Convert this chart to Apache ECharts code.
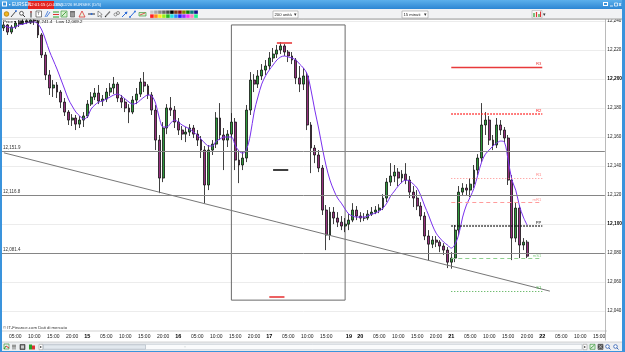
<!DOCTYPE html>
<html><head><meta charset="utf-8">
<script src="https://cdn.jsdelivr.net/npm/echarts@6/dist/echarts.min.js"></script>
<style>html,body{margin:0;padding:0;background:#fff;}#c{width:625px;height:352px;}</style>
</head><body><div id="c"></div>
<script>
// ---------- DATA ----------
const sessions = [['14',2,23],['15',0,23],['16',0,23],['17',0,20],['19',21,23],['20',0,23],['21',0,23],['22',0,16]];
const categories = [];
sessions.forEach(([d,a,b])=>{ for(let h=a;h<=b;h++) categories.push(d+' '+String(h).padStart(2,'0')+':00'); });
const labelHours = [5,10,15,20];

const opens = [
12.2352,12.2373,12.2324,12.2359,12.2386,12.2379,12.2400,12.2393,12.2407,12.2400,
12.2304,12.2166,12.2028,12.1938,12.1959,12.1910,12.1841,12.1772,12.1717,12.1731,
12.1689,12.1717,12.1745,12.1827,12.1876,12.1903,12.1848,12.1862,12.1910,12.1938,
12.1965,12.1869,12.1841,12.1800,12.1772,12.1855,12.1896,12.1979,12.1952,12.1890,
12.1786,12.1579,12.1317,12.1662,12.1800,12.1786,12.1703,12.1648,12.1620,12.1634,
12.1662,12.1620,12.1579,12.1510,12.1269,12.1510,12.1551,12.1731,12.1614,12.1579,
12.1620,12.1703,12.1441,12.1407,12.1455,12.1786,12.1993,12.1965,12.2021,12.2062,
12.2090,12.2145,12.2172,12.2200,12.2228,12.2186,12.2159,12.2131,12.2007,12.1965,
12.2021,12.1683,12.1524,12.1476,12.1386,12.1096,12.0924,12.1082,12.1041,12.1013,
12.0986,12.0999,12.1027,12.1096,12.1055,12.1041,12.1041,12.1068,12.1082,12.1096,
12.1110,12.1179,12.1289,12.1331,12.1358,12.1317,12.1344,12.1303,12.1220,12.1179,
12.1124,12.1055,12.0917,12.0861,12.0889,12.0875,12.0848,12.0820,12.0737,12.0765,
12.0958,12.1220,12.1248,12.1234,12.1275,12.1372,12.1455,12.1683,12.1717,12.1579,
12.1545,12.1683,12.1648,12.1593,12.1303,12.0903,12.1110,12.0855,12.0875];
const closes = [
12.2373,12.2324,12.2359,12.2386,12.2379,12.2400,12.2393,12.2407,12.2400,12.2304,
12.2166,12.2028,12.1938,12.1959,12.1910,12.1841,12.1772,12.1717,12.1731,12.1689,
12.1717,12.1745,12.1827,12.1876,12.1903,12.1848,12.1862,12.1910,12.1938,12.1965,
12.1869,12.1841,12.1800,12.1772,12.1855,12.1896,12.1979,12.1952,12.1890,12.1786,
12.1579,12.1317,12.1662,12.1800,12.1786,12.1703,12.1648,12.1620,12.1634,12.1662,
12.1620,12.1579,12.1510,12.1269,12.1510,12.1551,12.1731,12.1614,12.1579,12.1620,
12.1703,12.1441,12.1407,12.1455,12.1786,12.1993,12.1965,12.2021,12.2062,12.2090,
12.2145,12.2172,12.2200,12.2228,12.2186,12.2159,12.2131,12.2007,12.1965,12.2021,
12.1683,12.1524,12.1476,12.1386,12.1096,12.0924,12.1082,12.1041,12.1013,12.0986,
12.0999,12.1027,12.1096,12.1055,12.1041,12.1041,12.1068,12.1082,12.1096,12.1110,
12.1179,12.1289,12.1331,12.1358,12.1317,12.1344,12.1303,12.1220,12.1179,12.1124,
12.1055,12.0917,12.0861,12.0889,12.0875,12.0848,12.0820,12.0737,12.0765,12.0958,
12.1220,12.1248,12.1234,12.1275,12.1372,12.1455,12.1683,12.1717,12.1579,12.1545,
12.1683,12.1648,12.1593,12.1303,12.0903,12.1110,12.0855,12.0875,12.0778];
const lows = [
12.2331,12.2304,12.2310,12.2345,12.2359,12.2373,12.2379,12.2379,12.2373,12.2283,
12.2145,12.1993,12.1890,12.1876,12.1869,12.1800,12.1745,12.1683,12.1676,12.1648,
12.1662,12.1669,12.1731,12.1814,12.1855,12.1827,12.1814,12.1841,12.1883,12.1896,
12.1841,12.1800,12.1772,12.1696,12.1758,12.1827,12.1876,12.1910,12.1862,12.1752,
12.1510,12.1213,12.1289,12.1620,12.1745,12.1662,12.1614,12.1579,12.1565,12.1607,
12.1593,12.1538,12.1455,12.1144,12.1234,12.1476,12.1524,12.1579,12.1372,12.1531,
12.1593,12.1372,12.1282,12.1372,12.1427,12.1752,12.1910,12.1938,12.1993,12.2028,
12.2062,12.2117,12.2145,12.2172,12.2159,12.2117,12.2103,12.1965,12.1910,12.1924,
12.1648,12.1351,12.1420,12.1358,12.1062,12.0820,12.0889,12.0999,12.0979,12.0958,
12.0944,12.0958,12.1013,12.1027,12.1013,12.1020,12.1027,12.1055,12.1068,12.1075,
12.1096,12.1151,12.1262,12.1289,12.1262,12.1282,12.1275,12.1179,12.1117,12.1096,
12.1027,12.0889,12.0751,12.0834,12.0841,12.0806,12.0786,12.0696,12.0692,12.0737,
12.0917,12.1193,12.1200,12.1186,12.1248,12.1338,12.1427,12.1614,12.1545,12.1510,
12.1524,12.1614,12.1565,12.1269,12.0751,12.0875,12.0765,12.0820,12.0765];
const highs = [
12.2393,12.2379,12.2373,12.2400,12.2407,12.2414,12.2414,12.2414,12.2414,12.2407,
12.2317,12.2186,12.2062,12.1993,12.1979,12.1924,12.1869,12.1786,12.1758,12.1752,
12.1745,12.1772,12.1855,12.1910,12.1938,12.1959,12.1890,12.1938,12.1972,12.2014,
12.1979,12.1890,12.1869,12.1827,12.1883,12.1938,12.2007,12.2048,12.1965,12.1910,
12.1821,12.1614,12.1703,12.1827,12.1876,12.1814,12.1731,12.1676,12.1669,12.1689,
12.1683,12.1648,12.1607,12.1538,12.1545,12.1579,12.1772,12.1834,12.1662,12.1648,
12.1765,12.1731,12.1496,12.1496,12.1821,12.2048,12.2034,12.2062,12.2103,12.2131,
12.2186,12.2214,12.2235,12.2255,12.2241,12.2200,12.2186,12.2145,12.2090,12.2076,
12.2048,12.1703,12.1545,12.1510,12.1407,12.1131,12.1117,12.1117,12.1082,12.1055,
12.1041,12.1068,12.1144,12.1124,12.1082,12.1075,12.1096,12.1117,12.1124,12.1137,
12.1206,12.1317,12.1420,12.1407,12.1386,12.1372,12.1420,12.1331,12.1262,12.1234,
12.1151,12.1082,12.0958,12.0917,12.0917,12.0889,12.0868,12.0841,12.0806,12.0993,
12.1262,12.1282,12.1275,12.1317,12.1407,12.1482,12.1834,12.1772,12.1745,12.1614,
12.1731,12.1717,12.1669,12.1614,12.1338,12.1151,12.1131,12.0903,12.0889];
const ema = [
12.2366,12.2359,12.2352,12.2359,12.2373,12.2379,12.2386,12.2393,12.2393,12.2379,
12.2338,12.2269,12.2193,12.2131,12.2069,12.2000,12.1931,12.1862,12.1814,12.1772,
12.1745,12.1724,12.1738,12.1793,12.1821,12.1841,12.1848,12.1862,12.1876,12.1890,
12.1896,12.1883,12.1862,12.1841,12.1827,12.1834,12.1855,12.1876,12.1890,12.1883,
12.1834,12.1731,12.1669,12.1669,12.1696,12.1717,12.1703,12.1683,12.1669,12.1655,
12.1634,12.1614,12.1586,12.1558,12.1538,12.1538,12.1572,12.1586,12.1600,12.1600,
12.1600,12.1545,12.1503,12.1489,12.1517,12.1614,12.1772,12.1876,12.1965,12.2021,
12.2062,12.2097,12.2131,12.2152,12.2159,12.2152,12.2145,12.2131,12.2103,12.2076,
12.2034,12.1924,12.1786,12.1662,12.1524,12.1400,12.1303,12.1234,12.1179,12.1144,
12.1103,12.1068,12.1055,12.1048,12.1048,12.1048,12.1055,12.1068,12.1075,12.1089,
12.1110,12.1144,12.1193,12.1227,12.1262,12.1289,12.1303,12.1296,12.1275,12.1248,
12.1193,12.1124,12.1062,12.0993,12.0937,12.0903,12.0875,12.0855,12.0834,12.0861,
12.0930,12.1048,12.1131,12.1186,12.1248,12.1338,12.1427,12.1482,12.1510,12.1538,
12.1558,12.1572,12.1565,12.1441,12.1303,12.1234,12.1124,12.1048,12.0993];

const supportLevels = [12.1519, 12.1168, 12.0814];
const trendIdx = [0, 144];
const trendVal = [12.1491, 12.0537];
const boxIdx = [60, 90];
const boxVal = [12.2373, 12.0475];
const markFrom = [72, 71, 70];
const markTo = [76, 75, 74];
const markVal = [12.2250, 12.1377, 12.0498];
const pivotNames = ['R3','R2','R1','mR1','PP','mS1','S1'];
const pivotValues = [12.2083, 12.1758, 12.1316, 12.1148, 12.0986, 12.0763, 12.0539];
const pivotRange = [118, 142];
const lastPrice = 12.0778;
const extraTags = [12.0712, 12.0519];

// ---------- STYLES ----------
const FONT = 'Arial, "Liberation Sans", sans-serif';
const pivotColors = ['#e8393a','#ff1a1a','#ff8a8a','#ff9c9c','#111111','#8fd08f','#3ea53e'];
const pivotWidths = [1.4,1.6,1,1,1.6,1,1];
const pivotTypes  = ['solid',[1.5,1.5],[1,2],[4,3],[1.5,1.5],[4,3],[1,2]];
const markColors = ['#e8393a','#111111','#e8393a'];

function fmtAxis(v){ return v.toFixed(3).replace('.', ','); }
function fmtPx(v){ const s=v.toFixed(4); return s.slice(0,2)+','+s.slice(3,6)+'.'+s.slice(6); }
function catInfo(i){ const p=categories[i].split(' '); return {d:p[0], h:parseInt(p[1],10)}; }
function isDayStart(i){ return i>0 && catInfo(i).d!==catInfo(i-1).d; }
function showLabel(i){
  if (isDayStart(i)) return true;
  if (labelHours.indexOf(catInfo(i).h) >= 0) {
    for (let k=1;k<=3;k++) if (i+k<categories.length && isDayStart(i+k)) return false;
    return true;
  }
  return false;
}

const candleData = opens.map((o,i)=>[o, closes[i], lows[i], highs[i]]);

// markers
const ml = [];
supportLevels.forEach(v=>ml.push({yAxis:v, lineStyle:{color:'#858585',width:1,type:'solid'},
  label:{show:true, position:'insideStartTop', formatter:fmtPx(v), fontSize:4.5, color:'#333', distance:1, fontFamily:FONT}}));
ml.push([{coord:[trendIdx[0],trendVal[0]], lineStyle:{color:'#777',width:1,type:'solid'}, label:{show:false}},
         {coord:[trendIdx[1],trendVal[1]]}]);
markVal.forEach((v,k)=>ml.push([{coord:[markFrom[k],v], lineStyle:{color:markColors[k],width:1.6,type:'solid'}, label:{show:false}},
         {coord:[markTo[k],v]}]));
pivotNames.forEach((n,k)=>ml.push([
   {coord:[pivotRange[0],pivotValues[k]], lineStyle:{color:pivotColors[k], width:pivotWidths[k], type:pivotTypes[k], opacity:1},
    label:{show:true, position:'insideEndTop', formatter:n, fontSize:4.2, color:pivotColors[k], distance:1, fontFamily:FONT}},
   {coord:[pivotRange[1],pivotValues[k]], lineStyle:{color:pivotColors[k], width:pivotWidths[k], type:pivotTypes[k], opacity:1}}]));
// right axis tags
function tag(v, color, bg, border){
  ml.push({yAxis:v, lineStyle:{opacity:0}, label:{show:true, position:'end', distance:2, formatter:fmtPx(v),
    fontSize:4.5, color:color, backgroundColor:bg, borderColor:border||'transparent', borderWidth:border?0.5:0,
    padding:[0.5,0.8,0,0.8], fontFamily:FONT}});
}
[0,1,2,3].forEach(k=>tag(pivotValues[k], '#e01010', '#fff4f4', '#f3a0a0'));
tag(pivotValues[4], '#222', '#fff', '#bbb');
tag(lastPrice, '#000', '#ffe81a', '#c8b000');
tag(extraTags[0], '#1f8f1f', '#eaffea', '#9ad09a');
tag(extraTags[1], '#1f8f1f', '#fff', '#9ad09a');

// ---------- CHROME ----------
const G = [];
function R(x,y,w,h,fill,stroke,lw){ G.push({type:'rect', shape:{x:x,y:y,width:w,height:h}, style:{fill:fill, stroke:stroke||null, lineWidth:stroke?(lw||0.6):0}, silent:true, z:100}); }
function T(x,y,text,size,fill,extra){ G.push({type:'text', x:x, y:y, style:Object.assign({text:text, fontSize:size, fill:fill, fontFamily:FONT, verticalAlign:'middle', align:'left'}, extra||{}), silent:true, z:101}); }
function L(x1,y1,x2,y2,stroke,w){ G.push({type:'line', shape:{x1:x1,y1:y1,x2:x2,y2:y2}, style:{stroke:stroke, lineWidth:w||1}, silent:true, z:101}); }
function C(cx,cy,r,fill,stroke){ G.push({type:'circle', shape:{cx:cx,cy:cy,r:r}, style:{fill:fill, stroke:stroke||null, lineWidth:0.8}, silent:true, z:101}); }

const blue = new echarts.graphic.LinearGradient(0,0,0,1,[{offset:0,color:'#5cb0ec'},{offset:1,color:'#2d86d3'}]);
R(0,0,625,9,blue);
R(0,9,2,343,'#3a93dc'); R(622,0,3,352,'#3a93dc'); R(0,351,625,1,'#3a93dc');
R(2,1.5,5,5,'#fff'); R(3,2.5,3,3,'#3a93dc');
T(9,4.7,'▪ EURSEK',4.6,'#fff');
R(28,1,26,8,'#e3231f');
T(29,5,'12:01:15 (-0.03%)',4.2,'#fff');
T(56,5,'15/12/26 EURSEK (D/5)',4.2,'#e8f4ff');
R(603,2,5,4,'#fff'); R(604,3,3,2,'#3a93dc');
L(610,6,613,6,'#fff',0.8); R(614.5,3,3,3,null,'#fff',0.7);
L(619,3,621,6,'#fff',0.8); L(621,3,619,6,'#fff',0.8);

// toolbar
R(2,9,620,10,'#f1f2f4'); L(2,18.8,622,18.8,'#a9a9a9',0.6);
C(6.5,14,2.3,'#f2b51f','#b07a00');
L(11,17,16,11,'#333',0.9); C(16,11,0.9,'#2a6ad8');
C(21.5,13.3,1.9,'#fff','#333'); L(22.8,14.8,25,17,'#333',1);
L(31,11,31,17.5,'#333',1); L(30,12,32,12,'#d33',0.8);
R(36,11,5.5,6,'#fff','#333'); T(37.2,14.2,'T',4,'#333');
L(45,17,48,11,'#2a6ad8',0.8); L(46.5,17,50,12,'#2a6ad8',0.8);
L(53,12,59,12,'#2aa02a',1); L(53,14.5,59,14.5,'#d33',1); L(53,17,59,17,'#2aa02a',1);
R(61,11,6,6,'#d8f0d0','#2a8f2a'); L(62,16,66,12,'#2a8f2a',0.8);
R(70.5,12,4,5,'#9a9a9a','#555'); L(70,11.5,75,11.5,'#555',0.8);
G.push({type:'polygon', shape:{points:[[79,17],[82,11],[85,17]]}, style:{fill:'#e6f5e0', stroke:'#d33', lineWidth:0.8}, silent:true, z:101});
L(88,14,95,14,'#333',1); C(91.5,14,1,'#2a6ad8');
G.push({type:'polygon', shape:{points:[[98,11],[98,17],[99.5,15.5],[101,17.5],[101.8,16.8],[100.5,15],[102.2,14.5]]}, style:{fill:'#fff', stroke:'#555', lineWidth:0.6}, silent:true, z:101});
L(105,17,110,11.5,'#777',1.2); L(105,17,106,16,'#333',1);
C(115.5,14.5,1.5,null,'#777'); C(118,13,1.5,null,'#777');
L(122,17,127,12,'#2a6ad8',1); G.push({type:'polygon', shape:{points:[[127.5,11.5],[124.5,12.2],[126.8,14.5]]}, style:{fill:'#2a6ad8'}, silent:true, z:101});
L(130,17,135,11.5,'#2a6ad8',1); C(130,17,0.9,'#2a6ad8'); C(135,11.5,0.9,'#2a6ad8');
R(139,12.5,7,3.5,'#d8f0d0','#2a8f2a'); L(140,15,145,13,'#d33',0.8);
const pal1 = ['#c8c8c8','#a8a8a8','#8a8a8a','#6a6a6a','#4a4a4a','#000000','#7a3a1a','#8a1010','#808000','#0a7a0a','#0a7a7a','#10108a'];
const pal2 = ['#ff2020','#ff8c1a','#ffe81a','#9cf01a','#20c020','#20e0e0','#2a8cff','#2020ff','#9030ff','#ff30ff','#ff80c0','#20f090'];
pal1.forEach((c,k)=>R(150+k*4,10.3,4,3.9,c,'#fff',0.3));
pal2.forEach((c,k)=>R(150+k*4,14.2,4,3.9,c,'#fff',0.3));
R(273,11,25,7,'#fff','#9a9a9a'); T(274.5,14.6,'200 unità',4.2,'#222'); T(293.5,14.6,'▾',4.5,'#333');
R(402,11,26,7,'#fff','#9a9a9a'); T(403.5,14.6,'15 minuti',4.2,'#222'); T(423.5,14.6,'▾',4.5,'#333');
R(532,10.5,10,7.5,'#f8f8f8','#b0b0b0'); L(534,17,534,13,'#2aa02a',1.2); L(536.5,17,536.5,12,'#d33',1.2); L(539,17,539,14,'#2aa02a',1.2); L(540.5,17,540.5,11.5,'#d33',1);
T(543,14.6,'▾',4.5,'#333');

// chart frame / bottom
L(2,19.2,622,19.2,'#9a9a9a',0.6);
T(3,21.8,'Price ▾  ▮▮  High 12,241.4   Low 12,069.2',4.4,'#111');
T(3,327.8,'© IT-Finance.com Dati di mercato',4.3,'#333');
L(2,331,607,331,'#b4b4b4',0.6);
R(2,342,620,9,'#eceef1'); L(2,342,622,342,'#b8b8b8',0.6);
L(4,349,6,346,'#2aa02a',1); L(6,346,9,348,'#d33',1); R(4,344,5,5,null,'#2a8f2a',0.6);
L(13,344.5,13,349.5,'#555',0.8); L(15,344.5,15,349.5,'#555',0.8); L(12,346,16,346,'#555',0.6);
R(20,344.5,5,5,'#666','#333'); R(21,345.5,3,3,'#ccc');
R(29,344.5,3,5,'#2aa02a'); R(32,345.5,3,4,'#d33');
R(39,344.3,4,5.4,'#fff','#999'); T(39.8,347.2,'▸',3.5,'#333');
R(43,344.3,539,5.4,'#fafbfc','#b9c0c8'); R(43.5,344.8,102,4.4,'#e2e8ee','#a9b3bd');
T(184,347.1,'::',3.5,'#9aa');
R(583,344.3,4,5.4,'#fff','#999'); T(583.6,347.2,'▸',3.5,'#333');
R(590,344.3,5,5,'#e0f0e0','#2a8f2a'); L(590.5,348.5,594.5,345,'#2a8f2a',0.8);
R(598,344.3,5,5,'#555','#333'); L(598.5,344.8,602.5,348.8,'#ddd',0.6); L(602.5,344.8,598.5,348.8,'#ddd',0.6);
C(607.5,346.5,1.8,'#fff','#2a5ab0'); L(608.8,347.8,610.5,349.5,'#2a5ab0',0.9);
C(615.5,346.5,1.8,'#fff','#2a5ab0'); L(616.8,347.8,618.5,349.5,'#2a5ab0',0.9);

// ---------- CHART ----------
const chart = echarts.init(document.getElementById('c'), null, {renderer:'canvas'});
chart.setOption({
  animation:false,
  backgroundColor:'#ffffff',
  textStyle:{fontFamily:FONT},
  grid:{left:2, right:18, top:19, bottom:12, containLabel:false},
  xAxis:{type:'category', data:categories, boundaryGap:true,
    axisLine:{show:false}, axisTick:{show:false}, splitLine:{show:false},
    axisLabel:{inside:true, margin:1, fontSize:5, color:'#222', fontFamily:FONT, hideOverlap:false,
      interval:(idx)=>showLabel(idx),
      formatter:(val, idx)=> isDayStart(idx) ? '{d|'+catInfo(idx).d+'}' : String(catInfo(idx).h).padStart(2,'0')+':00',
      rich:{d:{fontWeight:'bold', fontSize:5.5, color:'#000', fontFamily:FONT}}}},
  yAxis:{type:'value', position:'right', min:12.02, max:12.2414, interval:0.02, scale:true,
    axisLine:{show:true, lineStyle:{color:'#a8a8a8', width:0.8}}, axisTick:{show:false},
    axisLabel:{fontSize:4.6, color:'#222', margin:2.5, fontFamily:FONT,
      formatter:(v)=> Math.abs(v-12.02)<1e-6 ? '' : (Math.abs(v*10-Math.round(v*10))<1e-6 ? '{b|'+fmtAxis(v)+'}' : fmtAxis(v)),
      rich:{b:{fontWeight:'bold', fontSize:4.8, color:'#000', fontFamily:FONT}}},
    splitLine:{show:true, showMinLine:false, lineStyle:{color:'#ececec', width:1}}},
  series:[
    {type:'candlestick', data:candleData, barWidth:2.4, z:3,
      itemStyle:{color:'#2f9a3c', color0:'#97307f', borderColor:'#111', borderColor0:'#111', borderWidth:0.8}},
    {type:'line', data:ema, smooth:0.35, symbol:'none', z:4,
      lineStyle:{color:'#7a30ee', width:1},
      markLine:{silent:true, symbol:['none','none'], animation:false, data:ml},
      markArea:{silent:true, animation:false, itemStyle:{color:'rgba(0,0,0,0)', borderColor:'#6a6a6a', borderWidth:1},
        data:[[{coord:[boxIdx[0],boxVal[0]]},{coord:[boxIdx[1],boxVal[1]]}]]}}
  ],
  graphic:G
});
</script></body></html>
